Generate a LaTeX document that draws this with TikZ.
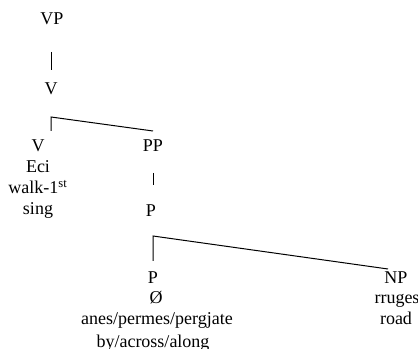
\documentclass[tikz,border=0pt]{standalone}
\usepackage{fontspec}
\setmainfont{Liberation Serif}
\begin{document}
\begin{tikzpicture}[x=0.75pt,y=-0.75pt,
    lbl/.style={anchor=base,inner sep=0pt,font=\fontsize{13.5}{15}\selectfont},
    branch/.style={line width=0.75pt}]
    \useasboundingbox (0,0) rectangle (418,349);
    % labels of the tree
    \node[lbl] (vp) at (52,25) {VP};
    \node[lbl] (vbar) at (51,95) {V};
    \node[lbl] (v) at (38,152) {V};
    \node[lbl] (eci) at (38,173) {Eci};
    \node[lbl] (walk) at (38,194) {walk-1\textsuperscript{st}};
    \node[lbl] (sing) at (38,215) {sing};
    \node[lbl] (pp) at (153,152) {PP};
    \node[lbl] (pbar) at (151,217) {P};
    \node[lbl] (p) at (153,283) {P};
    \node[lbl] (null) at (156,304) {Ø};
    \node[lbl] (anes) at (157,325) {anes/permes/pergjate};
    \node[lbl] (by) at (153,347) {by/across/along};
    \node[lbl] (np) at (396,283) {NP};
    \node[lbl] (rruges) at (397,304) {rruges};
    \node[lbl] (road) at (396,325) {road};

    % branch points
    \coordinate (vp-b) at (51,52);
    \coordinate (vbar-t) at (51,70);
    \coordinate (vbar-b) at (51,117);
    \coordinate (v-t) at (51,131);
    \coordinate (pp-t) at (153,131);
    \coordinate (pp-b) at (153,173);
    \coordinate (pbar-t) at (153,185);
    \coordinate (pbar-b) at (153,236);
    \coordinate (p-t) at (153,261);
    \coordinate (np-t) at (388,269);

    \draw[branch] (vp-b) -- (vbar-t);
    \draw[branch] (v-t) -- (vbar-b) -- (pp-t);
    \draw[branch] (pp-b) -- (pbar-t);
    \draw[branch] (p-t) -- (pbar-b) -- (np-t);
\end{tikzpicture}
\end{document}
